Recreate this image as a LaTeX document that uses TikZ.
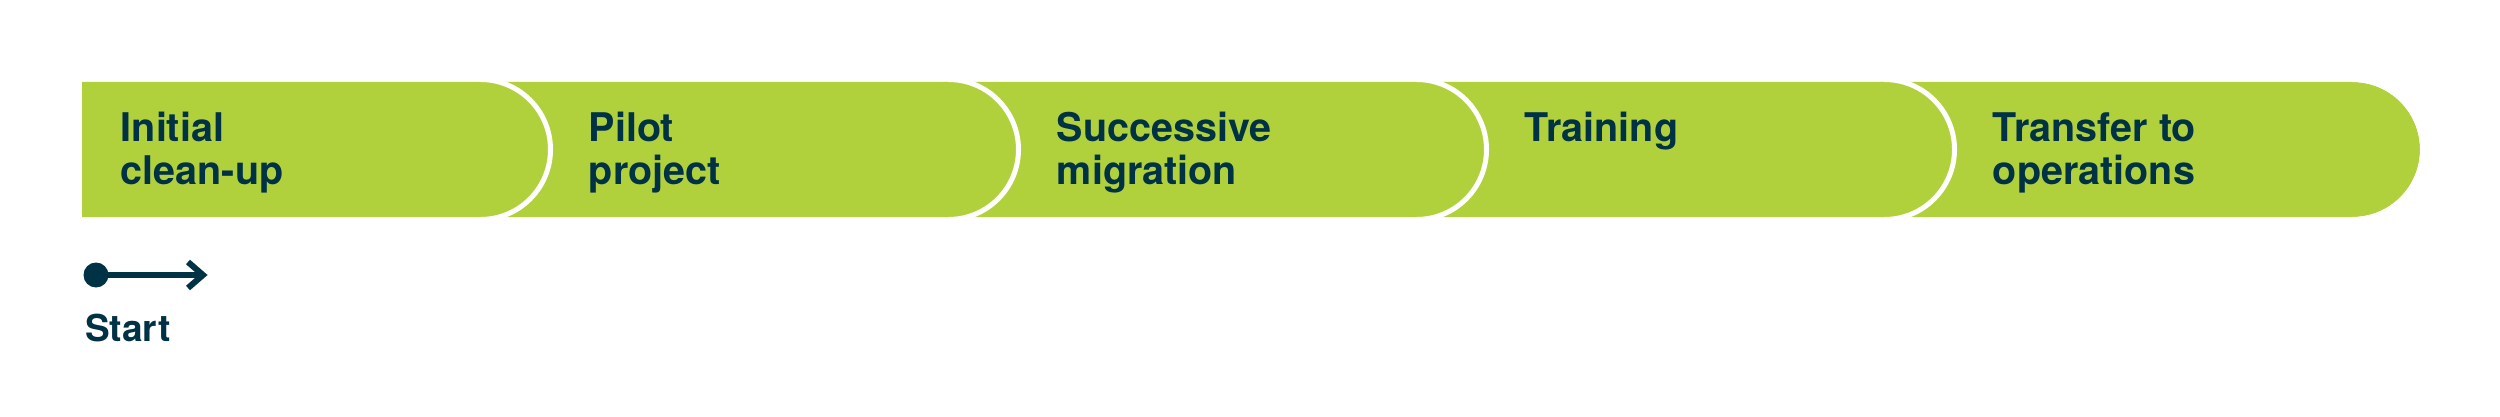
\documentclass[tikz,border=0pt]{standalone}
\usepackage{fontspec}
\setmainfont{TeX Gyre Heros}
\definecolor{barGreen}{HTML}{B1D13C}
\definecolor{ink}{HTML}{003246}
\begin{document}
\begin{tikzpicture}[x=1pt,y=-1pt,
  seg/.style={fill=barGreen,draw=none},
  rim/.style={draw=white,line width=5pt},
  lbl/.style={anchor=base west,inner sep=0pt,text=ink,font=\bfseries\fontsize{39.5}{42.6}\selectfont},
  startlbl/.style={anchor=base west,inner sep=0pt,text=ink,font=\bfseries\fontsize{37}{40}\selectfont}]
\useasboundingbox (0,0) rectangle (2500,417);
% segments, drawn right to left so each overlaps the next
\foreach \k in {4,3,2,1,0}{
  \pgfmathsetmacro{\s}{480.5+468*\k}
  \pgfmathsetmacro{\l}{\k==0 ? 82 : 480.5+468*(\k-1)}
  \fill[seg] (\l,82) -- (\s,82) arc[start angle=-90,end angle=90,radius=67.5] -- (\l,217) -- cycle;
  \draw[rim] (\s,79.5) arc[start angle=-90,end angle=90,radius=70];
}
% labels
\node[lbl] (t1a) at (120.7,141.7) {Initial};
\node[lbl] (t1b) at (120.7,184.3) {clean-up};
\node[lbl] (t2a) at (588.7,141.7) {Pilot};
\node[lbl] (t2b) at (588.7,184.3) {project};
\node[lbl] (t3a) at (1056.7,141.7) {Successive};
\node[lbl] (t3b) at (1056.7,184.3) {migration};
\node[lbl] (t4a) at (1524.7,141.7) {Training};
\node[lbl] (t5a) at (1992.7,141.7) {Transfer to};
\node[lbl] (t5b) at (1992.7,184.3) {operations};
% start marker
\node[circle,fill=ink,minimum size=25pt,inner sep=0pt] (dot) at (96,275) {};
\coordinate (tip) at (203,275);
\draw[ink,line width=6pt] (dot.center) -- (tip);
\draw[ink,line width=6pt,miter limit=10] (188,262) -- (tip) -- (188,288);
\node[startlbl] (start) at (85,341.7) {Start};
\end{tikzpicture}
\end{document}
